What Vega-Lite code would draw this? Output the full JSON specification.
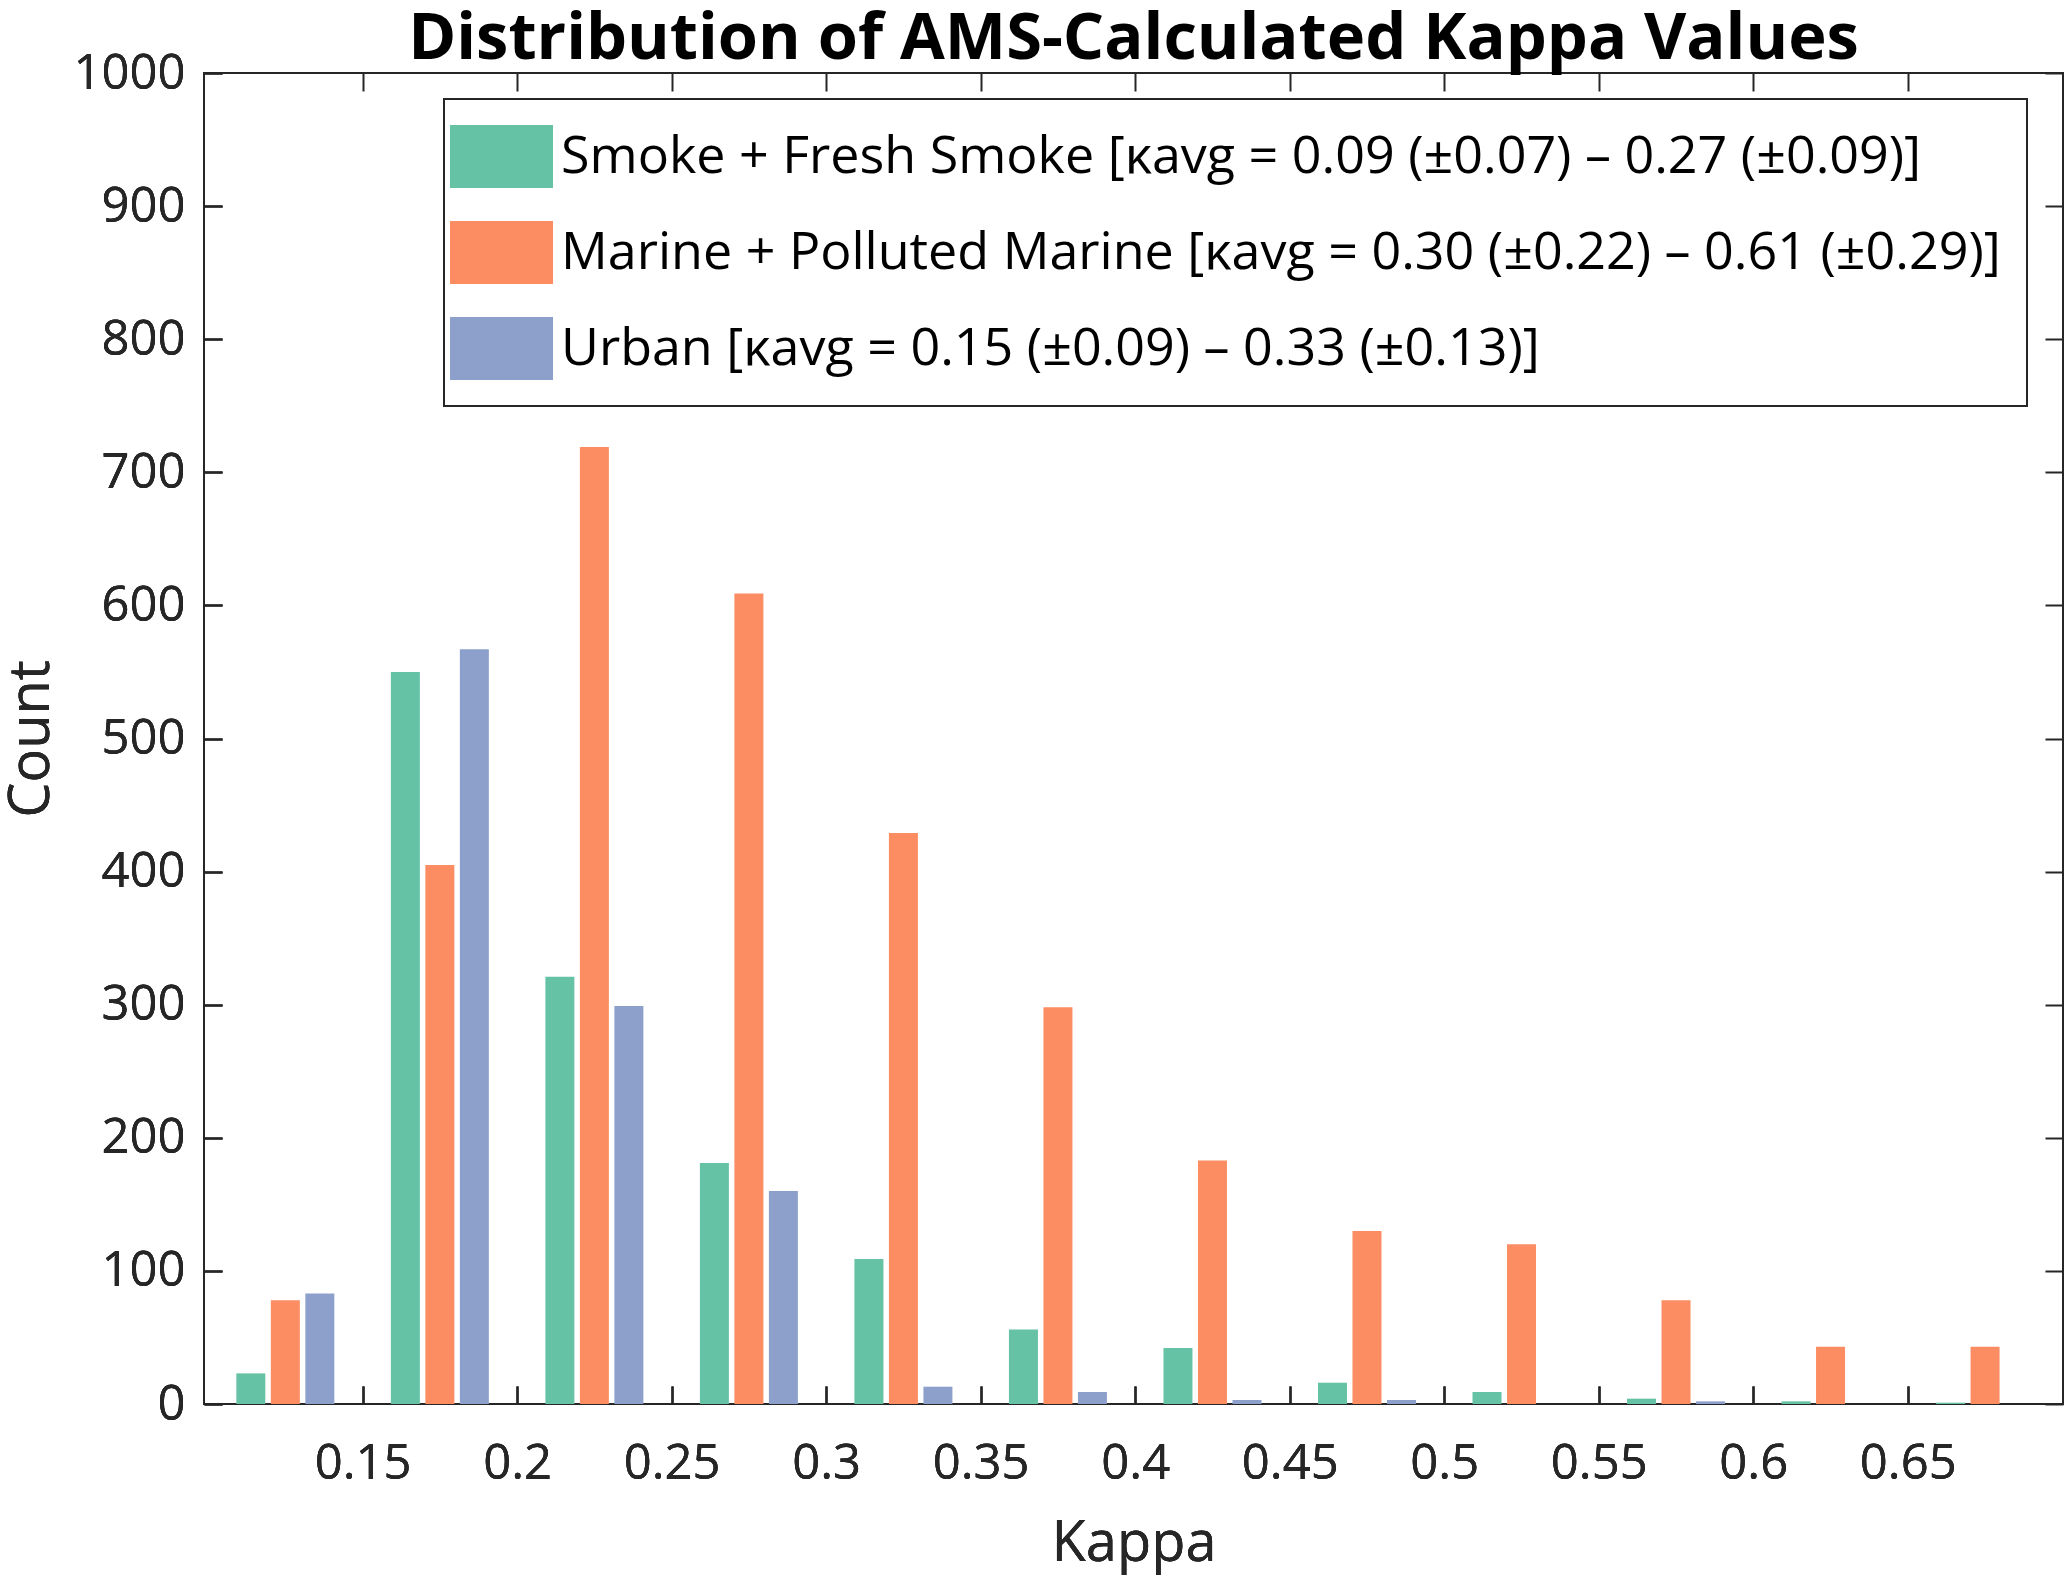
{
  "$schema": "https://vega.github.io/schema/vega-lite/v6.json",
  "autosize": {"type": "none"},
  "width": 1859,
  "height": 1331,
  "padding": {"left": 204, "top": 73, "right": 5, "bottom": 175},
  "background": "white",
  "title": {
    "text": "Distribution of AMS-Calculated Kappa Values",
    "font": "Open Sans",
    "fontSize": 65,
    "fontWeight": "bold",
    "color": "black",
    "anchor": "middle",
    "offset": -24
  },
  "data": {
    "values": [
      {"kappa": 0.125, "type": "Smoke + Fresh Smoke", "count": 23},
      {"kappa": 0.125, "type": "Marine + Polluted Marine", "count": 78},
      {"kappa": 0.125, "type": "Urban", "count": 83},
      {"kappa": 0.175, "type": "Smoke + Fresh Smoke", "count": 550},
      {"kappa": 0.175, "type": "Marine + Polluted Marine", "count": 405},
      {"kappa": 0.175, "type": "Urban", "count": 567},
      {"kappa": 0.225, "type": "Smoke + Fresh Smoke", "count": 321},
      {"kappa": 0.225, "type": "Marine + Polluted Marine", "count": 719},
      {"kappa": 0.225, "type": "Urban", "count": 299},
      {"kappa": 0.275, "type": "Smoke + Fresh Smoke", "count": 181},
      {"kappa": 0.275, "type": "Marine + Polluted Marine", "count": 609},
      {"kappa": 0.275, "type": "Urban", "count": 160},
      {"kappa": 0.325, "type": "Smoke + Fresh Smoke", "count": 109},
      {"kappa": 0.325, "type": "Marine + Polluted Marine", "count": 429},
      {"kappa": 0.325, "type": "Urban", "count": 13},
      {"kappa": 0.375, "type": "Smoke + Fresh Smoke", "count": 56},
      {"kappa": 0.375, "type": "Marine + Polluted Marine", "count": 298},
      {"kappa": 0.375, "type": "Urban", "count": 9},
      {"kappa": 0.425, "type": "Smoke + Fresh Smoke", "count": 42},
      {"kappa": 0.425, "type": "Marine + Polluted Marine", "count": 183},
      {"kappa": 0.425, "type": "Urban", "count": 3},
      {"kappa": 0.475, "type": "Smoke + Fresh Smoke", "count": 16},
      {"kappa": 0.475, "type": "Marine + Polluted Marine", "count": 130},
      {"kappa": 0.475, "type": "Urban", "count": 3},
      {"kappa": 0.525, "type": "Smoke + Fresh Smoke", "count": 9},
      {"kappa": 0.525, "type": "Marine + Polluted Marine", "count": 120},
      {"kappa": 0.525, "type": "Urban", "count": 0},
      {"kappa": 0.575, "type": "Smoke + Fresh Smoke", "count": 4},
      {"kappa": 0.575, "type": "Marine + Polluted Marine", "count": 78},
      {"kappa": 0.575, "type": "Urban", "count": 2},
      {"kappa": 0.625, "type": "Smoke + Fresh Smoke", "count": 2},
      {"kappa": 0.625, "type": "Marine + Polluted Marine", "count": 43},
      {"kappa": 0.625, "type": "Urban", "count": 0},
      {"kappa": 0.675, "type": "Smoke + Fresh Smoke", "count": 1},
      {"kappa": 0.675, "type": "Marine + Polluted Marine", "count": 43},
      {"kappa": 0.675, "type": "Urban", "count": 0}
    ]
  },
  "encoding": {
    "x": {
      "field": "kappa",
      "type": "quantitative",
      "title": "Kappa",
      "scale": {"domain": [0.1003, 0.6986], "nice": false, "zero": false},
      "axis": {
        "orient": "bottom",
        "values": [0.15, 0.2, 0.25, 0.3, 0.35, 0.4, 0.45, 0.5, 0.55, 0.6, 0.65],
        "format": ".2~f",
        "grid": false,
        "domain": false,
        "tickSize": -18,
        "tickWidth": 2,
        "tickColor": "#262626",
        "labelFontSize": 49,
        "labelFont": "Open Sans",
        "labelColor": "#262626",
        "labelPadding": 53,
        "labelFlush": false,
        "titleFontSize": 56,
        "titleFont": "Open Sans",
        "titleFontWeight": "normal",
        "titleColor": "#262626",
        "titlePadding": 28
      }
    },
    "y": {
      "field": "count",
      "type": "quantitative",
      "title": "Count",
      "scale": {"domain": [0, 1000], "nice": false},
      "axis": {
        "orient": "left",
        "values": [0, 100, 200, 300, 400, 500, 600, 700, 800, 900, 1000],
        "format": "d",
        "grid": false,
        "domain": false,
        "tickSize": -18,
        "tickWidth": 2,
        "tickColor": "#262626",
        "labelFontSize": 49,
        "labelFont": "Open Sans",
        "labelColor": "#262626",
        "labelPadding": 37,
        "labelFlush": false,
        "titleFontSize": 56,
        "titleFont": "Open Sans",
        "titleFontWeight": "normal",
        "titleColor": "#262626",
        "titlePadding": 12
      }
    },
    "color": {
      "field": "type",
      "type": "nominal",
      "scale": {
        "domain": ["Smoke + Fresh Smoke", "Marine + Polluted Marine", "Urban"],
        "range": ["#66c2a5", "#fc8d62", "#8da0cb"]
      },
      "legend": {
        "title": null,
        "orient": "none",
        "legendX": 240,
        "legendY": 26,
        "labelExpr": "datum.label == 'Smoke + Fresh Smoke' ? 'Smoke + Fresh Smoke [κavg = 0.09 (±0.07) – 0.27 (±0.09)]' : datum.label == 'Marine + Polluted Marine' ? 'Marine + Polluted Marine [κavg = 0.30 (±0.22) – 0.61 (±0.29)]' : 'Urban [κavg = 0.15 (±0.09) – 0.33 (±0.13)]'",
        "labelFont": "Open Sans",
        "labelFontSize": 52,
        "labelColor": "black",
        "labelLimit": 3000,
        "labelOffset": 28,
        "symbolType": "M-1.635,-1H1.635V1H-1.635Z",
        "symbolSize": 3969,
        "symbolStrokeWidth": 0,
        "symbolOpacity": 1,
        "rowPadding": 33,
        "padding": 26,
        "strokeColor": "#262626",
        "fillColor": "white"
      }
    }
  },
  "layer": [
    {
      "transform": [{"filter": "datum.type == 'Smoke + Fresh Smoke'"}],
      "mark": {"type": "bar", "width": 29, "xOffset": -34.5}
    },
    {
      "transform": [{"filter": "datum.type == 'Marine + Polluted Marine'"}],
      "mark": {"type": "bar", "width": 29}
    },
    {
      "transform": [{"filter": "datum.type == 'Urban'"}],
      "mark": {"type": "bar", "width": 29, "xOffset": 34.5}
    },
    {
      "mark": {"type": "point", "opacity": 0},
      "encoding": {
        "color": {"value": "white"},
        "x": {
          "field": "kappa",
          "type": "quantitative",
          "axis": {
            "orient": "top",
            "values": [0.15, 0.2, 0.25, 0.3, 0.35, 0.4, 0.45, 0.5, 0.55, 0.6, 0.65],
            "labels": false,
            "title": null,
            "grid": false,
            "domain": false,
            "tickSize": -18,
            "tickWidth": 2,
            "tickColor": "#262626",
            "minExtent": 0,
            "maxExtent": 0
          }
        },
        "y": {
          "field": "count",
          "type": "quantitative",
          "axis": {
            "orient": "right",
            "values": [0, 100, 200, 300, 400, 500, 600, 700, 800, 900, 1000],
            "labels": false,
            "title": null,
            "grid": false,
            "domain": false,
            "tickSize": -18,
            "tickWidth": 2,
            "tickColor": "#262626",
            "minExtent": 0,
            "maxExtent": 0
          }
        }
      }
    }
  ],
  "resolve": {"axis": {"x": "independent", "y": "independent"}},
  "config": {
    "view": {"stroke": "#262626", "strokeWidth": 2},
    "legend": {"strokeWidth": 2}
  }
}
